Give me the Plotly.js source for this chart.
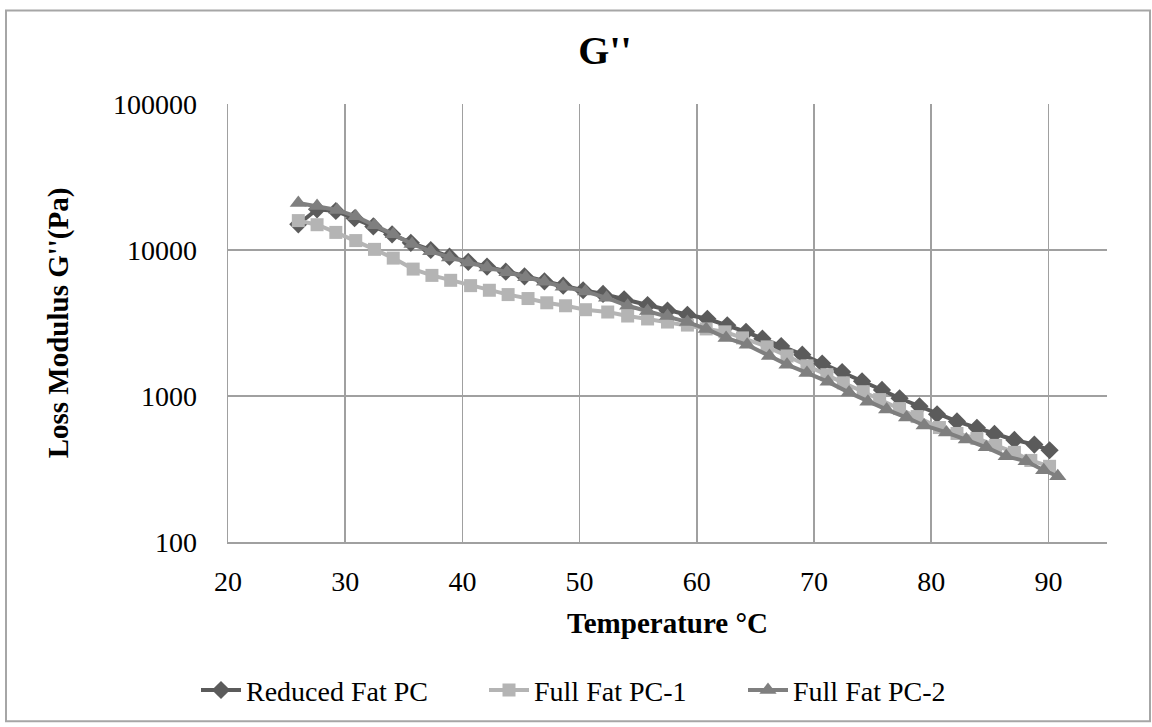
<!DOCTYPE html>
<html>
<head>
<meta charset="utf-8">
<script src="https://cdn.plot.ly/plotly-3.0.1.min.js"></script>
<style>
html,body{margin:0;padding:0;background:#fff;}
#chart{width:1152px;height:727px;}
</style>
</head>
<body>
<div id="chart"></div>
<script>
// Temperature (°C) and loss modulus G'' (Pa) readings
const tempReduced = [26.0, 27.6, 29.2, 30.8, 32.4, 34.0, 35.6, 37.3, 38.9, 40.5, 42.1, 43.7, 45.3, 47.0, 48.6, 50.3,
  52.0, 53.8, 55.8, 57.5, 59.2, 60.9, 62.6, 64.2, 65.6, 67.2, 69.0, 70.7, 72.4, 74.1, 75.8, 77.3, 79.0, 80.5, 82.2, 83.9, 85.4, 87.1, 88.8, 90.1];
const gReduced = [15000, 19000, 18500, 16500, 14500, 12800, 11200, 10000, 9000, 8300, 7700, 7100, 6600, 6100, 5700, 5300,
  5000, 4600, 4200, 3850, 3600, 3380, 3050, 2750, 2470, 2200, 1920, 1670, 1460, 1260, 1100, 965, 850, 750, 670, 605, 550, 500, 465, 425];

const tempFull1 = [26.0, 27.6, 29.2, 30.9, 32.5, 34.1, 35.8, 37.4, 39.0, 40.7, 42.3, 43.9, 45.6, 47.2, 48.8, 50.5,
  52.4, 54.1, 55.8, 57.5, 59.2, 60.8, 62.4, 63.9, 66.0, 67.7, 69.4, 71.1, 72.5, 74.2, 75.6, 77.3, 78.8, 80.7, 82.2, 83.9, 85.5, 87.1, 88.5, 90.1];
const gFull1 = [15900, 14900, 13200, 11600, 10100, 8800, 7400, 6700, 6200, 5700, 5300, 4950, 4650, 4350, 4150, 3900,
  3760, 3530, 3370, 3210, 3060, 2880, 2750, 2500, 2170, 1880, 1610, 1400, 1230, 1070, 945, 820, 723, 608, 554, 512, 459, 411, 362, 330];

const tempFull2 = [26.0, 27.6, 29.3, 30.9, 32.5, 34.1, 35.7, 37.3, 38.9, 40.5, 42.1, 43.8, 45.4, 47.0, 48.6, 50.5,
  52.3, 54.1, 55.8, 57.5, 59.2, 60.8, 62.5, 64.3, 66.2, 67.7, 69.4, 71.2, 73.0, 74.6, 76.2, 77.9, 79.4, 81.3, 83.0, 84.7, 86.4, 88.1, 89.6, 90.8];
const gFull2 = [21000, 20000, 18800, 17000, 14800, 12800, 11000, 9800, 8900, 8200, 7600, 7050, 6500, 6050, 5600, 5200,
  4700, 4150, 3820, 3530, 3210, 2880, 2500, 2240, 1880, 1640, 1440, 1250, 1055, 915, 807, 712, 628, 563, 504, 445, 386, 357, 310, 282];

const seriesNames = ["Reduced Fat PC", "Full Fat PC-1", "Full Fat PC-2"];
const xTicks = [20, 30, 40, 50, 60, 70, 80, 90];
const yTicks = [100, 1000, 10000, 100000];
const yTickLabels = ["100", "1000", "10000", "100000"];

const FONT = '"Liberation Serif", "Times New Roman", serif';
const GRID = '#a0a0a0';

const traces = [
  {x: tempReduced, y: gReduced, name: seriesNames[0], type: 'scatter', mode: 'lines+markers', legend: 'legend',
   line: {color: '#5b5b5b', width: 4}, marker: {symbol: 'diamond', size: 14, color: '#5b5b5b'}},
  {x: tempFull1, y: gFull1, name: seriesNames[1], type: 'scatter', mode: 'lines+markers', legend: 'legend2',
   line: {color: '#b4b4b4', width: 4}, marker: {symbol: 'square', size: 13, color: '#b4b4b4'}},
  {x: tempFull2, y: gFull2, name: seriesNames[2], type: 'scatter', mode: 'lines+markers', legend: 'legend3',
   line: {color: '#7f7f7f', width: 4}, marker: {symbol: 'triangle-up', size: 15, color: '#7f7f7f'}}
];

// paper-coordinate helpers (plot area: 228..1107 x, 104..544 y)
const PL = 228, PR = 1107, PT = 104, PB = 544;
const px = v => (v - PL) / (PR - PL);
const py = v => (PB - v) / (PB - PT);

const legendBase = {
  orientation: 'h', xanchor: 'left', y: py(693), yanchor: 'middle',
  font: {family: FONT, size: 28, color: '#000'}, bgcolor: 'rgba(0,0,0,0)', itemwidth: 40
};

const layout = {
  width: 1152, height: 727,
  margin: {l: PL, r: 1152 - PR, t: PT, b: 727 - PB, pad: 0},
  paper_bgcolor: '#ffffff', plot_bgcolor: '#ffffff',
  font: {family: FONT, size: 28, color: '#000000'},
  showlegend: true,
  title: {text: "<b>G''</b>", font: {family: FONT, size: 40, color: '#000'},
          x: px(605), xref: 'paper', xanchor: 'center', y: 1 - 50 / 727, yref: 'container', yanchor: 'middle'},
  xaxis: {
    type: 'linear', range: [20, 95], tickvals: xTicks, ticktext: xTicks.map(String),
    showgrid: true, gridcolor: GRID, gridwidth: 1.5, zeroline: false,
    showline: true, linecolor: GRID, linewidth: 1.5, ticks: '', ticklabelstandoff: 14,
    tickfont: {family: FONT, size: 28, color: '#000'},
    title: {text: '<b>Temperature °C</b>', font: {family: FONT, size: 29, color: '#000'}, standoff: 16},
    automargin: false, fixedrange: true
  },
  yaxis: {
    type: 'log', range: [2, 5], tickvals: yTicks, ticktext: yTickLabels,
    showgrid: true, gridcolor: GRID, gridwidth: 1.5, zeroline: false,
    showline: true, linecolor: GRID, linewidth: 1.5, ticks: '', ticklabelstandoff: 24,
    tickfont: {family: FONT, size: 28, color: '#000'},
    title: {text: "<b>Loss Modulus G''(Pa)</b>", font: {family: FONT, size: 29, color: '#000'}, standoff: 36},
    automargin: false, fixedrange: true
  },
  legend: Object.assign({}, legendBase, {x: px(196)}),
  legend2: Object.assign({}, legendBase, {x: px(484)}),
  legend3: Object.assign({}, legendBase, {x: px(743)}),
  shapes: [
    {type: 'rect', xref: 'paper', yref: 'paper', x0: px(6), x1: px(1150), y0: py(724), y1: py(10),
     line: {color: '#a6a6a6', width: 2}, fillcolor: 'rgba(0,0,0,0)', layer: 'below'}
  ]
};

Plotly.newPlot('chart', traces, layout, {displayModeBar: false, staticPlot: true});
</script>
</body>
</html>
